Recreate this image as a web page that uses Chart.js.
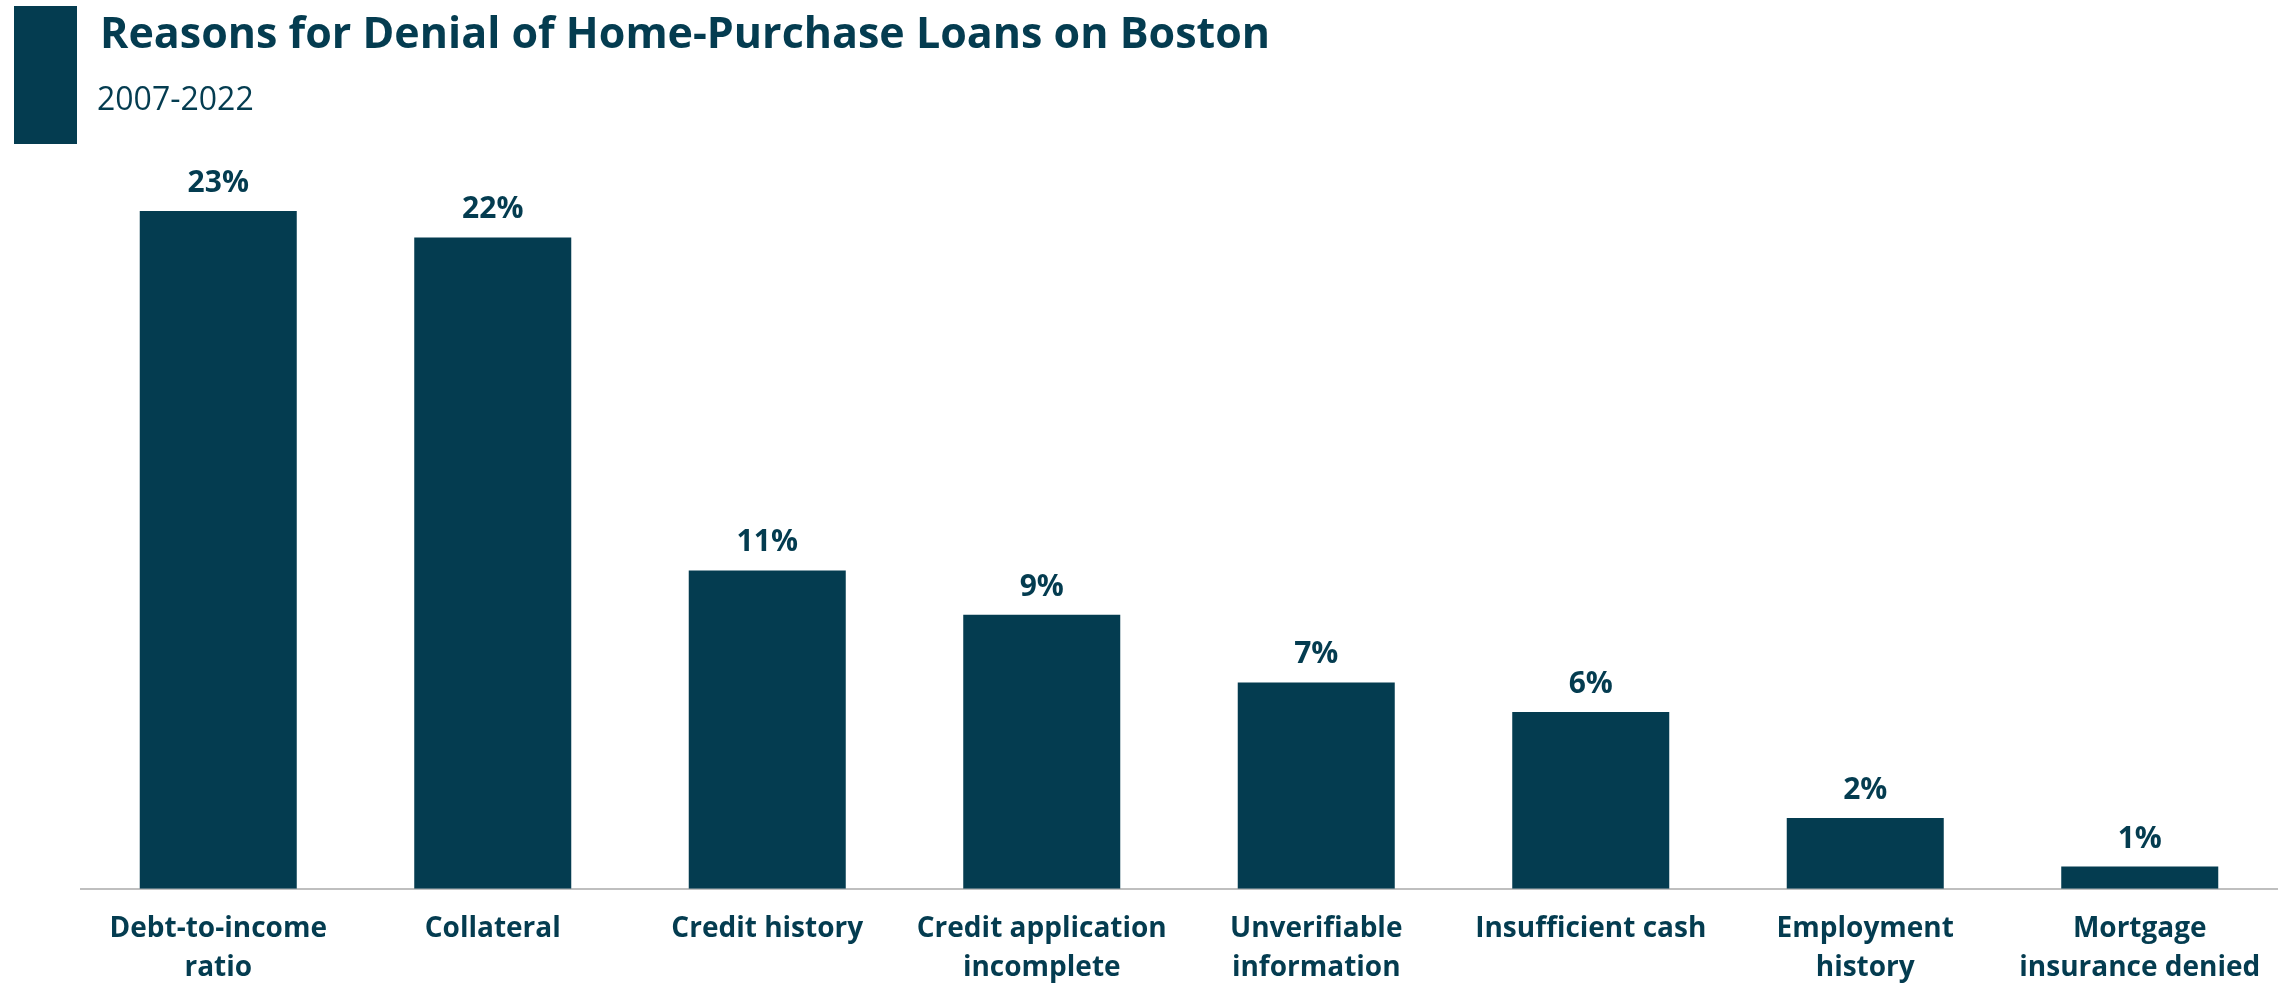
<!DOCTYPE html>
<html>
<head>
<meta charset="utf-8">
<script src="https://cdn.jsdelivr.net/npm/chart.js@4/dist/chart.umd.min.js"></script>
<style>
  html, body { margin: 0; padding: 0; background: #fff; overflow: hidden; }
  #wrap { position: relative; width: 2292px; height: 1008px; }
</style>
</head>
<body>
<div id="wrap"><canvas id="myChart"></canvas></div>
<script>
const categories = [
  ['Debt-to-income', 'ratio'],
  'Collateral',
  'Credit history',
  ['Credit application', 'incomplete'],
  ['Unverifiable', 'information'],
  'Insufficient cash',
  ['Employment', 'history'],
  ['Mortgage', 'insurance denied']
];
const shares = [23.0, 22.1, 10.8, 9.3, 7.0, 6.0, 2.4, 0.75];
const shareLabels = ['23%', '22%', '11%', '9%', '7%', '6%', '2%', '1%'];

const dark = '#043c50';
const FONT = '"Open Sans", "Noto Sans", sans-serif';

// header block, title and subtitle
const header = {
  id: 'header',
  afterDraw(chart) {
    const ctx = chart.ctx;
    ctx.save();
    ctx.fillStyle = dark;
    ctx.fillRect(14, 6, 63, 138);
    ctx.textAlign = 'left';
    ctx.textBaseline = 'alphabetic';
    ctx.font = 'bold 43px ' + FONT;
    ctx.fillText('Reasons for Denial of Home-Purchase Loans on Boston', 100, 48);
    ctx.font = '32px ' + FONT;
    ctx.fillText('2007-2022', 97, 110);
    ctx.restore();
  }
};

// value labels above the bars
const valueLabels = {
  id: 'valueLabels',
  afterDatasetsDraw(chart) {
    const ctx = chart.ctx;
    ctx.save();
    ctx.fillStyle = dark;
    ctx.font = 'bold 30px ' + FONT;
    ctx.textAlign = 'center';
    ctx.textBaseline = 'alphabetic';
    chart.getDatasetMeta(0).data.forEach((bar, i) => {
      ctx.fillText(shareLabels[i], bar.x, bar.y - 19);
    });
    ctx.restore();
  }
};

const config = {
  type: 'bar',
  data: {
    labels: categories,
    datasets: [{
      data: shares,
      backgroundColor: dark,
      borderWidth: 0,
      barPercentage: 0.572,
      categoryPercentage: 1
    }]
  },
  options: {
    responsive: true,
    maintainAspectRatio: false,
    animation: false,
    layout: { padding: { left: 81, right: 15, top: 152, bottom: 0 } },
    plugins: {
      legend: { display: false },
      tooltip: { enabled: false }
    },
    scales: {
      x: {
        grid: { display: false, drawTicks: false },
        border: { display: true, color: '#bfbfbf', width: 2 },
        ticks: {
          color: dark,
          font: { family: FONT, size: 28, weight: 'bold', lineHeight: 1.38 },
          padding: 21,
          maxRotation: 0,
          autoSkip: false
        }
      },
      y: {
        display: false,
        min: 0,
        max: 25
      }
    }
  },
  plugins: [header, valueLabels]
};

const myChart = new Chart(document.getElementById('myChart'), config);
</script>
</body>
</html>
